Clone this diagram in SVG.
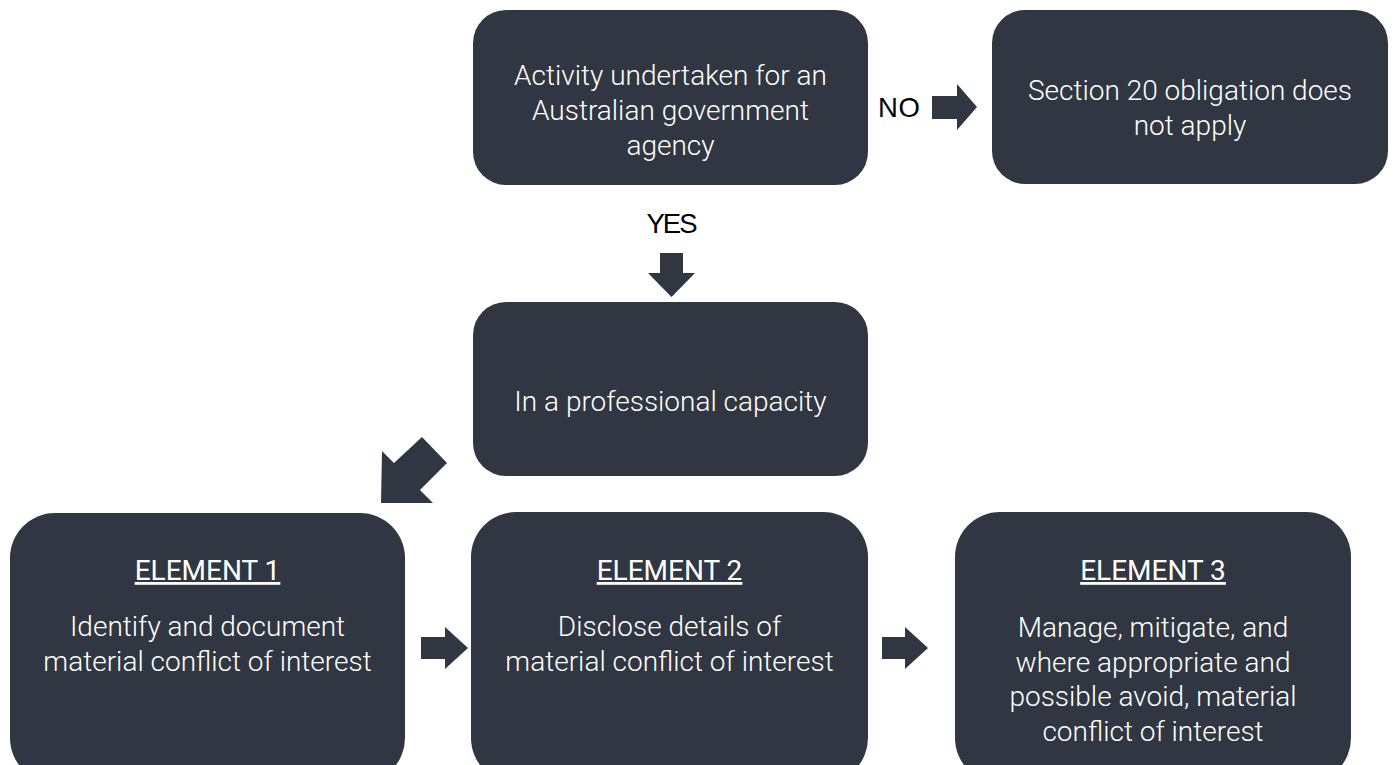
<svg xmlns="http://www.w3.org/2000/svg" width="1394" height="765" viewBox="0 0 1394 765">
<style>
.box{fill:#313742}
.arr{fill:#313742}
.t{font-family:Roboto,"Liberation Sans",sans-serif;font-weight:300;font-size:28px;fill:#ffffff;text-anchor:middle}
.h{font-family:Roboto,"Liberation Sans",sans-serif;font-weight:400;font-size:28px;fill:#ffffff;text-anchor:middle;text-decoration:underline}
.lbl{font-family:"Liberation Sans",Arial,sans-serif;font-size:27.5px;fill:#000000;text-anchor:middle}
</style>
<rect width="1394" height="765" fill="#ffffff"/>
<g id="connectors">
<polygon class="arr" points="932,96 957,96 957,84 977,107 957,130 957,119 932,119"/>
<text class="lbl" x="899" y="117" textLength="42">NO</text>
<text class="lbl" x="672" y="233" textLength="51">YES</text>
<polygon class="arr" points="660,253 683,253 683,273 695,273 671.5,297 648,273 660,273"/>
<polygon class="arr" points="381,503 382,451 394,463 422,437 447,463 420,490 433,503"/>
<polygon class="arr" points="421,637 445,637 445,627 468,648 445,669 445,659 421,659"/>
<polygon class="arr" points="882,637 905,637 905,627 928,648 905,669 905,659 882,659"/>
</g>
<g id="node-activity">
<rect class="box" x="473" y="10" width="395" height="175" rx="33"/>
<text class="t" x="670.5" y="85">Activity undertaken for an</text>
<text class="t" x="670.5" y="120">Australian government</text>
<text class="t" x="670.5" y="155">agency</text>
</g>
<g id="node-section20">
<rect class="box" x="992" y="10" width="396" height="174" rx="33"/>
<text class="t" x="1190" y="100">Section 20 obligation does</text>
<text class="t" x="1190" y="135">not apply</text>
</g>
<g id="node-professional">
<rect class="box" x="473" y="302" width="395" height="174" rx="33"/>
<text class="t" x="670.5" y="411">In a professional capacity</text>
</g>
<g id="node-element1">
<rect class="box" x="10" y="513" width="395" height="270" rx="45"/>
<text class="h" x="207.5" y="580">ELEMENT 1</text>
<text class="t" x="207.5" y="636">Identify and document</text>
<text class="t" x="207.5" y="671">material conflict of interest</text>
</g>
<g id="node-element2">
<rect class="box" x="471" y="512" width="397" height="271" rx="45"/>
<text class="h" x="669.5" y="580">ELEMENT 2</text>
<text class="t" x="669.5" y="636">Disclose details of</text>
<text class="t" x="669.5" y="671">material conflict of interest</text>
</g>
<g id="node-element3">
<rect class="box" x="955" y="512" width="396" height="271" rx="45"/>
<text class="h" x="1153" y="580">ELEMENT 3</text>
<text class="t" x="1153" y="637">Manage, mitigate, and</text>
<text class="t" x="1153" y="672">where appropriate and</text>
<text class="t" x="1153" y="706">possible avoid, material</text>
<text class="t" x="1153" y="741">conflict of interest</text>
</g>
</svg>
